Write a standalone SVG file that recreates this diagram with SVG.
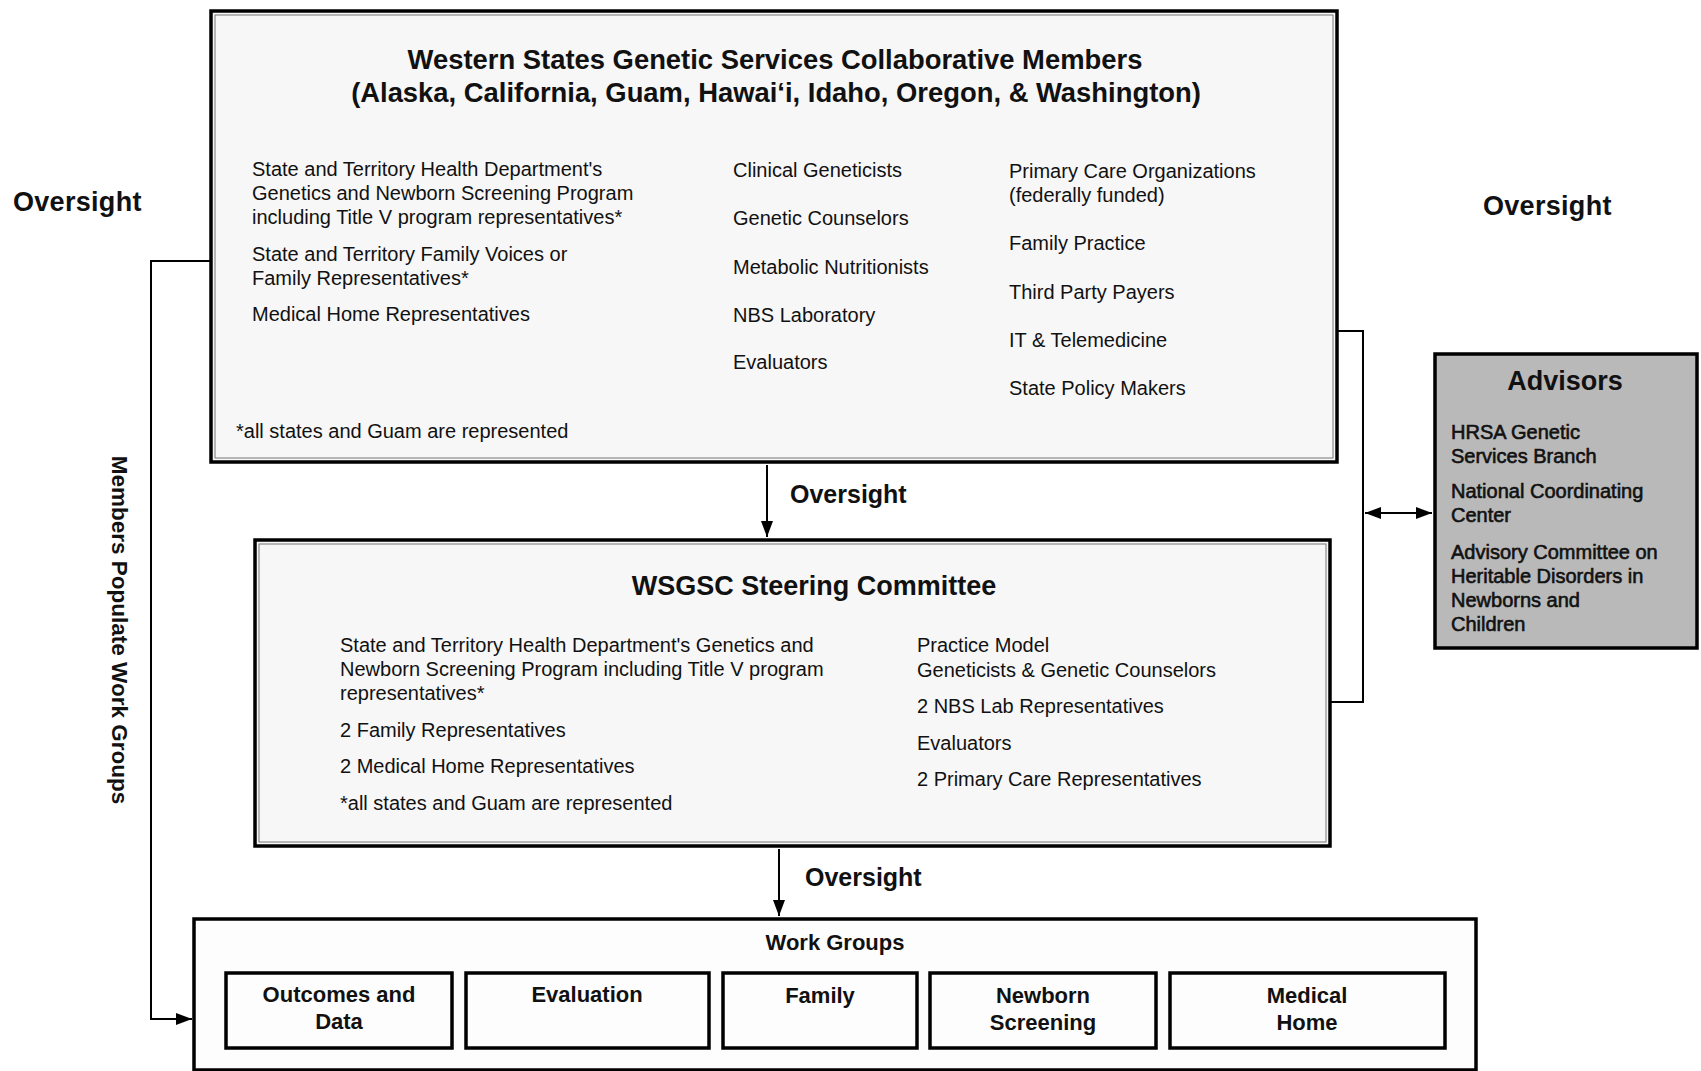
<svg xmlns="http://www.w3.org/2000/svg" width="1701" height="1071" viewBox="0 0 1701 1071">
<defs>
<marker id="ah" viewBox="0 0 16 12" refX="16" refY="6" markerWidth="16" markerHeight="12" markerUnits="userSpaceOnUse" orient="auto-start-reverse">
<path d="M0,0 L16,6 L0,12 z" fill="#000"/>
</marker>
</defs>
<style>
text{font-family:"Liberation Sans",Arial,sans-serif;fill:#111}
.b{font-weight:bold}
.t{font-size:20px}
.h{font-size:27px;font-weight:bold}
.ttl{font-size:27.4px;font-weight:bold;text-anchor:middle}
.wg{font-size:22px;font-weight:bold;text-anchor:middle}
.mid{text-anchor:middle}
.adv{font-size:20px;fill:#111;stroke:#111;stroke-width:0.6}
.box{fill:#f7f7f7;stroke:#000;stroke-width:3.5}
.inner{fill:none;stroke:#777;stroke-width:1}
.wbox{fill:#fdfdfd;stroke:#000;stroke-width:3.5}
.conn{fill:none;stroke:#000;stroke-width:2}
</style>
<rect width="1701" height="1071" fill="#fff"/>

<g id="connectors">
<path class="conn" d="M211,261 H151 V1019 H192" marker-end="url(#ah)"/>
<path class="conn" d="M767,465 V537" marker-end="url(#ah)"/>
<path class="conn" d="M779,849 V916" marker-end="url(#ah)"/>
<path class="conn" d="M1337,331 H1363 V702 H1331"/>
<path class="conn" d="M1365,513 H1432" marker-start="url(#ah)" marker-end="url(#ah)"/>
</g>

<g id="label-oversight-left"><text class="h" x="13" y="211" letter-spacing="0.3">Oversight</text></g>
<g id="label-oversight-right"><text class="h" x="1483" y="215" letter-spacing="0.3">Oversight</text></g>
<g id="label-oversight-1"><text class="b" font-size="25" x="790" y="503">Oversight</text></g>
<g id="label-oversight-2"><text class="b" font-size="25" x="805" y="886">Oversight</text></g>
<g id="label-members"><text class="b" font-size="22.5" transform="translate(112,630) rotate(90)" text-anchor="middle">Members Populate Work Groups</text></g>

<g id="members">
<rect class="box" x="211" y="11" width="1126" height="451"/>
<rect class="inner" x="215" y="15" width="1118" height="443"/>
<text class="ttl" x="775" y="69">Western States Genetic Services Collaborative Members</text>
<text class="ttl" x="776" y="102">(Alaska, California, Guam, Hawai‘i, Idaho, Oregon, &amp; Washington)</text>
<text class="t" x="252" y="176">State and Territory Health Department's</text>
<text class="t" x="252" y="200">Genetics and Newborn Screening Program</text>
<text class="t" x="252" y="224">including Title V program representatives*</text>
<text class="t" x="252" y="261">State and Territory Family Voices or</text>
<text class="t" x="252" y="285">Family Representatives*</text>
<text class="t" x="252" y="321">Medical Home Representatives</text>
<text class="t" x="733" y="177">Clinical Geneticists</text>
<text class="t" x="733" y="225">Genetic Counselors</text>
<text class="t" x="733" y="274">Metabolic Nutritionists</text>
<text class="t" x="733" y="322">NBS Laboratory</text>
<text class="t" x="733" y="369">Evaluators</text>
<text class="t" x="1009" y="178">Primary Care Organizations</text>
<text class="t" x="1009" y="202">(federally funded)</text>
<text class="t" x="1009" y="250">Family Practice</text>
<text class="t" x="1009" y="299">Third Party Payers</text>
<text class="t" x="1009" y="347">IT &amp; Telemedicine</text>
<text class="t" x="1009" y="395">State Policy Makers</text>
<text class="t" x="236" y="438">*all states and Guam are represented</text>
</g>

<g id="steering">
<rect class="box" x="255" y="540" width="1075" height="306" stroke-width="2"/>
<rect class="inner" x="259" y="544" width="1067" height="298" stroke="#333"/>
<text class="h mid" x="814" y="595">WSGSC Steering Committee</text>
<text class="t" x="340" y="652">State and Territory Health Department's Genetics and</text>
<text class="t" x="340" y="676">Newborn Screening Program including Title V program</text>
<text class="t" x="340" y="700">representatives*</text>
<text class="t" x="340" y="737">2 Family Representatives</text>
<text class="t" x="340" y="773">2 Medical Home Representatives</text>
<text class="t" x="340" y="810">*all states and Guam are represented</text>
<text class="t" x="917" y="652">Practice Model</text>
<text class="t" x="917" y="677">Geneticists &amp; Genetic Counselors</text>
<text class="t" x="917" y="713">2 NBS Lab Representatives</text>
<text class="t" x="917" y="750">Evaluators</text>
<text class="t" x="917" y="786">2 Primary Care Representatives</text>
</g>

<g id="advisors">
<rect x="1435" y="354" width="262" height="294" fill="#b9b9b9" stroke="#000" stroke-width="3.5"/>
<text class="h mid" x="1565" y="390">Advisors</text>
<text class="adv" x="1451" y="439">HRSA Genetic</text>
<text class="adv" x="1451" y="463">Services Branch</text>
<text class="adv" x="1451" y="498">National Coordinating</text>
<text class="adv" x="1451" y="522">Center</text>
<text class="adv" x="1451" y="559">Advisory Committee on</text>
<text class="adv" x="1451" y="583">Heritable Disorders in</text>
<text class="adv" x="1451" y="607">Newborns and</text>
<text class="adv" x="1451" y="631">Children</text>
</g>

<g id="workgroups">
<rect class="wbox" x="194" y="919" width="1282" height="151" stroke-width="3"/>
<text class="wg" x="835" y="950">Work Groups</text>
</g>
<g id="wg-outcomes">
<rect class="wbox" x="226" y="973" width="226" height="75"/>
<text class="wg" x="339" y="1002">Outcomes and</text>
<text class="wg" x="339" y="1029">Data</text>
</g>
<g id="wg-evaluation">
<rect class="wbox" x="466" y="973" width="243" height="75"/>
<text class="wg" x="587" y="1002">Evaluation</text>
</g>
<g id="wg-family">
<rect class="wbox" x="723" y="973" width="194" height="75"/>
<text class="wg" x="820" y="1003">Family</text>
</g>
<g id="wg-newborn">
<rect class="wbox" x="930" y="973" width="226" height="75"/>
<text class="wg" x="1043" y="1003">Newborn</text>
<text class="wg" x="1043" y="1030">Screening</text>
</g>
<g id="wg-medical">
<rect class="wbox" x="1170" y="973" width="275" height="75"/>
<text class="wg" x="1307" y="1003">Medical</text>
<text class="wg" x="1307" y="1030">Home</text>
</g>
</svg>
